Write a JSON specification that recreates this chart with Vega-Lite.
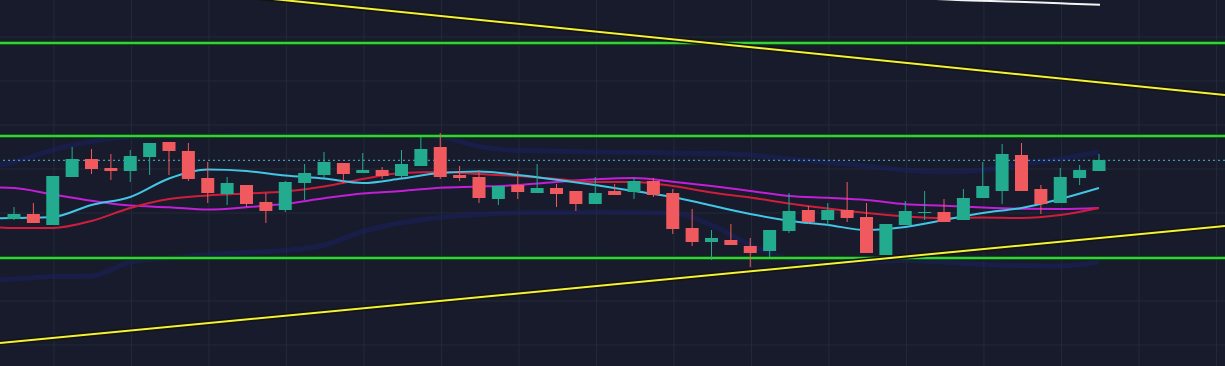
{
  "$schema": "https://vega.github.io/schema/vega-lite/v6.json",
  "width": 1225,
  "height": 366,
  "padding": 0,
  "autosize": {"type": "none"},
  "background": "#171b2b",
  "config": {"view": {"stroke": null}, "axis": {"disable": true}},
  "datasets": {
    "candles": [
      {"i":0,"o":147,"c":152,"h":159,"l":146},
      {"i":1,"o":152,"c":143,"h":163,"l":143},
      {"i":2,"o":141,"c":190,"h":190,"l":141},
      {"i":3,"o":189,"c":207,"h":219,"l":189},
      {"i":4,"o":207,"c":197,"h":217,"l":192},
      {"i":5,"o":198,"c":195,"h":212,"l":186},
      {"i":6,"o":195,"c":210,"h":216,"l":184},
      {"i":7,"o":209,"c":223,"h":223,"l":191},
      {"i":8,"o":224,"c":215,"h":224,"l":191},
      {"i":9,"o":215,"c":187,"h":223,"l":185},
      {"i":10,"o":188,"c":173,"h":204,"l":163},
      {"i":11,"o":172,"c":183,"h":189,"l":161},
      {"i":12,"o":181,"c":162,"h":181,"l":159},
      {"i":13,"o":164,"c":155,"h":173,"l":143},
      {"i":14,"o":156,"c":184,"h":185,"l":154},
      {"i":15,"o":183,"c":193,"h":202,"l":166},
      {"i":16,"o":191,"c":204,"h":214,"l":188},
      {"i":17,"o":203,"c":192,"h":203,"l":183},
      {"i":18,"o":193,"c":196,"h":213,"l":193},
      {"i":19,"o":196,"c":190,"h":199,"l":187},
      {"i":20,"o":190,"c":202,"h":216,"l":188},
      {"i":21,"o":200,"c":217,"h":229,"l":200},
      {"i":22,"o":219,"c":189,"h":233,"l":187},
      {"i":23,"o":191,"c":188,"h":200,"l":185},
      {"i":24,"o":189,"c":168,"h":196,"l":163},
      {"i":25,"o":167,"c":180,"h":180,"l":161},
      {"i":26,"o":181,"c":174,"h":195,"l":167},
      {"i":27,"o":173,"c":178,"h":202,"l":173},
      {"i":28,"o":178,"c":172,"h":182,"l":159},
      {"i":29,"o":175,"c":162,"h":175,"l":155},
      {"i":30,"o":162,"c":173,"h":189,"l":162},
      {"i":31,"o":175,"c":171,"h":182,"l":171},
      {"i":32,"o":174,"c":185,"h":188,"l":167},
      {"i":33,"o":185,"c":171,"h":188,"l":169},
      {"i":34,"o":173,"c":137,"h":177,"l":132},
      {"i":35,"o":138,"c":124,"h":157,"l":120},
      {"i":36,"o":124,"c":128,"h":136,"l":106},
      {"i":37,"o":126,"c":121,"h":142,"l":121},
      {"i":38,"o":120,"c":113,"h":128,"l":99},
      {"i":39,"o":115,"c":136,"h":136,"l":109},
      {"i":40,"o":135,"c":155,"h":173,"l":133},
      {"i":41,"o":156,"c":144,"h":160,"l":142},
      {"i":42,"o":146,"c":156,"h":163,"l":140},
      {"i":43,"o":156,"c":148,"h":184,"l":144},
      {"i":44,"o":149,"c":113,"h":163,"l":113},
      {"i":45,"o":111,"c":142,"h":142,"l":111},
      {"i":46,"o":141,"c":155,"h":165,"l":141},
      {"i":47,"o":153,"c":154,"h":175,"l":146},
      {"i":48,"o":154,"c":144,"h":167,"l":144},
      {"i":49,"o":146,"c":168,"h":177,"l":146},
      {"i":50,"o":168,"c":180,"h":204,"l":168},
      {"i":51,"o":175,"c":212,"h":222,"l":162},
      {"i":52,"o":211,"c":175,"h":223,"l":175},
      {"i":53,"o":177,"c":162,"h":181,"l":152},
      {"i":54,"o":163,"c":189,"h":198,"l":163},
      {"i":55,"o":188,"c":196,"h":201,"l":181},
      {"i":56,"o":195,"c":206,"h":212,"l":195}
    ],
    "ma": [
      {"i":-1,"fast":147.5,"mid":139,"slow":178.5,"up":200,"lo":86},
      {"i":0,"fast":148,"mid":138,"slow":178,"up":204,"lo":87},
      {"i":2,"fast":149,"mid":138,"slow":171.5,"up":216,"lo":89.5},
      {"i":4,"fast":161,"mid":145,"slow":165.3,"up":224.5,"lo":90},
      {"i":6,"fast":169,"mid":158,"slow":160.4,"up":229,"lo":104},
      {"i":8,"fast":187.5,"mid":167,"slow":158.8,"up":230,"lo":108},
      {"i":10,"fast":196.5,"mid":170.5,"slow":156.5,"up":230.5,"lo":111.5},
      {"i":12,"fast":195,"mid":172.5,"slow":158.8,"up":231,"lo":113.5},
      {"i":14,"fast":190.5,"mid":174.5,"slow":162.2,"up":231,"lo":115.5},
      {"i":16,"fast":187.5,"mid":179.5,"slow":167.7,"up":231,"lo":121},
      {"i":18,"fast":183,"mid":187,"slow":172.5,"up":231,"lo":134.5},
      {"i":20,"fast":187.5,"mid":193,"slow":175,"up":230.5,"lo":143.2},
      {"i":22,"fast":193,"mid":194,"slow":178.2,"up":229,"lo":148.5},
      {"i":24,"fast":194.5,"mid":192,"slow":179.4,"up":219.5,"lo":151.5},
      {"i":26,"fast":191,"mid":190,"slow":181,"up":215.5,"lo":153.2},
      {"i":28,"fast":186.3,"mid":187,"slow":184,"up":215,"lo":153.6},
      {"i":30,"fast":181,"mid":184,"slow":186.7,"up":214,"lo":154},
      {"i":32,"fast":175,"mid":184,"slow":188,"up":213.7,"lo":153.5},
      {"i":34,"fast":169,"mid":180,"slow":184.3,"up":213,"lo":153},
      {"i":36,"fast":160.5,"mid":173.5,"slow":180,"up":212.5,"lo":141},
      {"i":38,"fast":152,"mid":168.5,"slow":175,"up":211,"lo":121},
      {"i":40,"fast":145.3,"mid":162.5,"slow":170,"up":207,"lo":107},
      {"i":42,"fast":141,"mid":157.5,"slow":168.2,"up":203.5,"lo":102},
      {"i":44,"fast":136,"mid":153,"slow":166,"up":200,"lo":104},
      {"i":46,"fast":139,"mid":149.7,"slow":161.8,"up":196,"lo":105.5},
      {"i":48,"fast":146,"mid":148,"slow":160.3,"up":194,"lo":104},
      {"i":50,"fast":153,"mid":148.5,"slow":158.5,"up":196,"lo":101.5},
      {"i":52,"fast":158,"mid":148,"slow":157.3,"up":202,"lo":100.5},
      {"i":54,"fast":167,"mid":151,"slow":157,"up":207,"lo":100},
      {"i":56,"fast":178,"mid":158,"slow":158,"up":214,"lo":104}
    ],
    "trend": [
      {"i":-0.7226,"a":394.5,"b":23},
      {"i":62.503,"a":271,"b":140}
    ],
    "white": [
      {"i":45.73,"w":369},
      {"i":48.67,"w":366},
      {"i":51.77,"w":364.3},
      {"i":53.99,"w":362.7},
      {"i":56.05,"w":361.3}
    ],
    "levels": [{"v":323},{"v":230},{"v":108}],
    "last": [{"v":205.7}],
    "gridx": [
      {"i":2.06},{"i":6.06},{"i":10.06},{"i":14.06},{"i":18.06},{"i":22.06},{"i":26.06},{"i":30.06},
      {"i":34.06},{"i":38.06},{"i":42.06},{"i":46.06},{"i":50.06},{"i":54.06},{"i":58.06},{"i":62.06}
    ],
    "gridy": [{"v":329},{"v":285},{"v":241},{"v":197},{"v":153},{"v":109},{"v":65},{"v":21}]
  },
  "layer": [
    {
      "data": {"name": "gridx"},
      "mark": {"type": "rule", "color": "#252a3a", "strokeWidth": 1},
      "encoding": {
        "x": {"field": "i", "type": "quantitative", "scale": {"domain": [-0.7226, 62.503], "nice": false, "zero": false}}
      }
    },
    {
      "data": {"name": "gridy"},
      "mark": {"type": "rule", "color": "#252a3a", "strokeWidth": 1},
      "encoding": {
        "y": {"field": "v", "type": "quantitative", "scale": {"domain": [0, 366], "nice": false, "zero": false}}
      }
    },
    {
      "data": {"name": "ma"},
      "mark": {"type": "line", "color": "#1c2062", "strokeWidth": 5, "opacity": 0.55, "interpolate": "monotone", "clip": true},
      "encoding": {
        "x": {"field": "i", "type": "quantitative", "scale": {"domain": [-0.7226, 62.503], "nice": false, "zero": false}},
        "y": {"field": "up", "type": "quantitative", "scale": {"domain": [0, 366], "nice": false, "zero": false}}
      }
    },
    {
      "data": {"name": "ma"},
      "mark": {"type": "line", "color": "#1c2062", "strokeWidth": 5, "opacity": 0.55, "interpolate": "monotone", "clip": true},
      "encoding": {
        "x": {"field": "i", "type": "quantitative", "scale": {"domain": [-0.7226, 62.503], "nice": false, "zero": false}},
        "y": {"field": "lo", "type": "quantitative", "scale": {"domain": [0, 366], "nice": false, "zero": false}}
      }
    },
    {
      "data": {"name": "levels"},
      "mark": {"type": "rule", "color": "#0c2a14", "strokeWidth": 5},
      "encoding": {
        "y": {"field": "v", "type": "quantitative", "scale": {"domain": [0, 366], "nice": false, "zero": false}}
      }
    },
    {
      "data": {"name": "levels"},
      "mark": {"type": "rule", "color": "#36d13a", "strokeWidth": 2.5},
      "encoding": {
        "y": {"field": "v", "type": "quantitative", "scale": {"domain": [0, 366], "nice": false, "zero": false}}
      }
    },
    {
      "data": {"name": "last"},
      "mark": {"type": "rule", "color": "#4fb8cc", "strokeWidth": 1, "strokeDash": [2, 3]},
      "encoding": {
        "y": {"field": "v", "type": "quantitative", "scale": {"domain": [0, 366], "nice": false, "zero": false}}
      }
    },
    {
      "data": {"name": "trend"},
      "mark": {"type": "line", "color": "#14140c", "strokeWidth": 5, "clip": true},
      "encoding": {
        "x": {"field": "i", "type": "quantitative", "scale": {"domain": [-0.7226, 62.503], "nice": false, "zero": false}},
        "y": {"field": "a", "type": "quantitative", "scale": {"domain": [0, 366], "nice": false, "zero": false}}
      }
    },
    {
      "data": {"name": "trend"},
      "mark": {"type": "line", "color": "#f2f23c", "strokeWidth": 2, "clip": true},
      "encoding": {
        "x": {"field": "i", "type": "quantitative", "scale": {"domain": [-0.7226, 62.503], "nice": false, "zero": false}},
        "y": {"field": "a", "type": "quantitative", "scale": {"domain": [0, 366], "nice": false, "zero": false}}
      }
    },
    {
      "data": {"name": "trend"},
      "mark": {"type": "line", "color": "#14140c", "strokeWidth": 5, "clip": true},
      "encoding": {
        "x": {"field": "i", "type": "quantitative", "scale": {"domain": [-0.7226, 62.503], "nice": false, "zero": false}},
        "y": {"field": "b", "type": "quantitative", "scale": {"domain": [0, 366], "nice": false, "zero": false}}
      }
    },
    {
      "data": {"name": "trend"},
      "mark": {"type": "line", "color": "#f2f23c", "strokeWidth": 2, "clip": true},
      "encoding": {
        "x": {"field": "i", "type": "quantitative", "scale": {"domain": [-0.7226, 62.503], "nice": false, "zero": false}},
        "y": {"field": "b", "type": "quantitative", "scale": {"domain": [0, 366], "nice": false, "zero": false}}
      }
    },
    {
      "data": {"name": "white"},
      "mark": {"type": "line", "color": "#f4f4f4", "strokeWidth": 2, "interpolate": "monotone", "clip": true},
      "encoding": {
        "x": {"field": "i", "type": "quantitative", "scale": {"domain": [-0.7226, 62.503], "nice": false, "zero": false}},
        "y": {"field": "w", "type": "quantitative", "scale": {"domain": [0, 366], "nice": false, "zero": false}}
      }
    },
    {
      "data": {"name": "ma"},
      "mark": {"type": "line", "color": "#c21fd6", "strokeWidth": 2, "interpolate": "monotone", "clip": true},
      "encoding": {
        "x": {"field": "i", "type": "quantitative", "scale": {"domain": [-0.7226, 62.503], "nice": false, "zero": false}},
        "y": {"field": "slow", "type": "quantitative", "scale": {"domain": [0, 366], "nice": false, "zero": false}}
      }
    },
    {
      "data": {"name": "ma"},
      "mark": {"type": "line", "color": "#cf1e3b", "strokeWidth": 2, "interpolate": "monotone", "clip": true},
      "encoding": {
        "x": {"field": "i", "type": "quantitative", "scale": {"domain": [-0.7226, 62.503], "nice": false, "zero": false}},
        "y": {"field": "mid", "type": "quantitative", "scale": {"domain": [0, 366], "nice": false, "zero": false}}
      }
    },
    {
      "data": {"name": "ma"},
      "mark": {"type": "line", "color": "#43c6e6", "strokeWidth": 2, "interpolate": "monotone", "clip": true},
      "encoding": {
        "x": {"field": "i", "type": "quantitative", "scale": {"domain": [-0.7226, 62.503], "nice": false, "zero": false}},
        "y": {"field": "fast", "type": "quantitative", "scale": {"domain": [0, 366], "nice": false, "zero": false}}
      }
    },
    {
      "data": {"name": "candles"},
      "mark": {"type": "rule", "strokeWidth": 1},
      "encoding": {
        "x": {"field": "i", "type": "quantitative", "scale": {"domain": [-0.7226, 62.503], "nice": false, "zero": false}},
        "y": {"field": "l", "type": "quantitative", "scale": {"domain": [0, 366], "nice": false, "zero": false}},
        "y2": {"field": "h"},
        "color": {"condition": {"test": "datum.c >= datum.o", "value": "#22ab8f"}, "value": "#f05a5e"}
      }
    },
    {
      "data": {"name": "candles"},
      "mark": {"type": "rule", "strokeWidth": 13, "strokeCap": "butt"},
      "encoding": {
        "x": {"field": "i", "type": "quantitative", "scale": {"domain": [-0.7226, 62.503], "nice": false, "zero": false}},
        "y": {"field": "o", "type": "quantitative", "scale": {"domain": [0, 366], "nice": false, "zero": false}},
        "y2": {"field": "c"},
        "color": {"condition": {"test": "datum.c >= datum.o", "value": "#22ab8f"}, "value": "#f05a5e"}
      }
    }
  ]
}
